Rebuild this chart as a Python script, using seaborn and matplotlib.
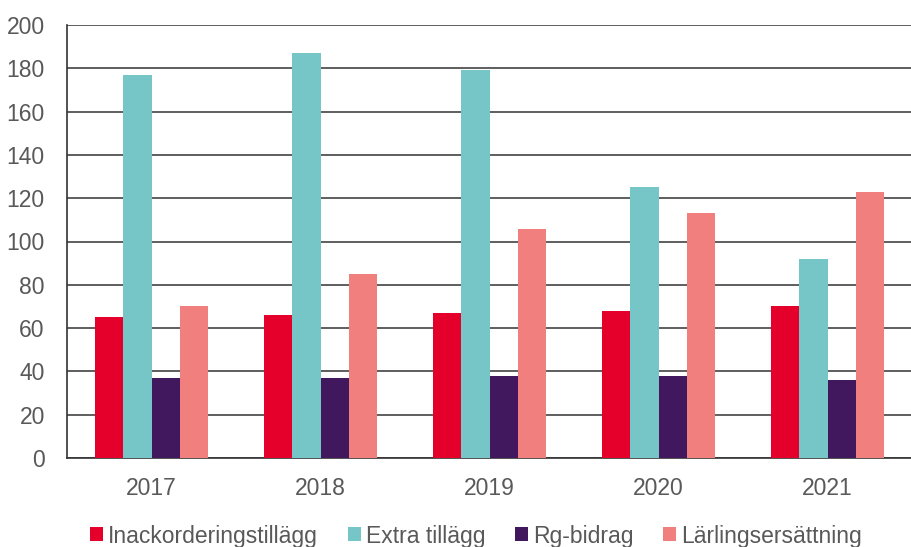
import matplotlib
matplotlib.use("Agg")
import matplotlib.pyplot as plt
import seaborn as sns
import pandas as pd

years = ["2017", "2018", "2019", "2020", "2021"]
inackordering = [65, 66, 67, 68, 70]
extra = [177, 187, 179, 125, 92]
rg_bidrag = [37, 37, 38, 38, 36]
larlings = [70, 85, 106, 113, 123]
series_names = ["Inackorderingstillägg", "Extra tillägg", "Rg-bidrag", "Lärlingsersättning"]
colors = ["#E4002B", "#76C5C7", "#41175E", "#F07F7E"]

rows = []
for name, vals in zip(series_names, [inackordering, extra, rg_bidrag, larlings]):
    for y, v in zip(years, vals):
        rows.append({"year": y, "series": name, "value": v})
df = pd.DataFrame(rows)

sns.set_theme(style="white")
plt.rcParams["font.family"] = ["Liberation Sans", "DejaVu Sans"]

fig = plt.figure(figsize=(9.12, 5.47), dpi=100)
ax = fig.add_axes([67/912, 1-458/547, 1-67/912, (458-25)/547])
sns.barplot(data=df, x="year", y="value", hue="series", palette=colors,
            width=0.667, saturation=1, ax=ax, legend=True, zorder=3,
            linewidth=0, edgecolor="none")
ax.set_ylim(0, 200)
ax.set_yticks(range(0, 201, 20))
ax.yaxis.grid(True, color="#333333", linewidth=1.1, zorder=0)
ax.set_axisbelow(True)
ax.set_xlabel("")
ax.set_ylabel("")
for s in ["top", "right"]:
    ax.spines[s].set_visible(False)
ax.spines["left"].set_color("#333333")
ax.spines["bottom"].set_color("#333333")
ax.spines["left"].set_linewidth(1.2)
ax.spines["bottom"].set_linewidth(1.2)
ax.tick_params(axis="both", length=0, labelsize=16.5, colors="#595959")
ax.tick_params(axis="y", pad=16)
ax.tick_params(axis="x", pad=14)
for t in ax.get_xticklabels() + ax.get_yticklabels():
    t.set_color("#595959")
ax.get_legend().remove()
handles, labels = ax.get_legend_handles_labels()
leg = fig.legend(handles, labels, loc="center", bbox_to_anchor=(0.522, 1-536/547),
                 ncol=4, frameon=False, fontsize=16.5, handlelength=0.57, handleheight=0.57,
                 handletextpad=0.22, columnspacing=1.3, borderaxespad=0)
for t in leg.get_texts():
    t.set_color("#595959")
fig.savefig("out.png", dpi=100)
